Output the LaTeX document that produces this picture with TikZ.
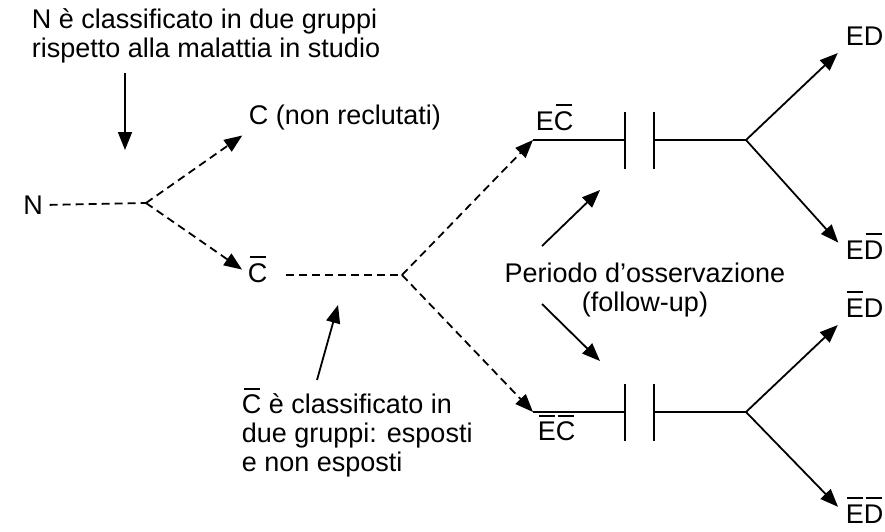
\documentclass[tikz,border=0pt]{standalone}
\usepackage{fontspec}
\setmainfont{Liberation Sans}
\usetikzlibrary{arrows.meta}
\newcommand{\nega}[1]{\ooalign{#1\cr\hidewidth\rule[24pt]{0.6em}{2pt}\hidewidth\cr}}

\begin{document}
\begin{tikzpicture}[x=1pt, y=-1pt, line width=1.8pt,
    >={Triangle[length=18pt,width=14pt]},
    lab/.style={inner sep=0pt, font=\fontsize{27}{29}\selectfont},
    dsh/.style={dash pattern=on 8pt off 5pt}]
  \useasboundingbox (0,0) rectangle (885,532);

  % notes
  \node[lab, anchor=north west, align=left] (noteN) at (31,8)
       {N è classificato in due gruppi\\rispetto alla malattia in studio};
  \node[lab, anchor=north west, align=left] (noteC) at (241,393)
       {\nega{C} è classificato in\\due gruppi: esposti\\e non esposti};
  \node[lab, align=center, anchor=north] (follow) at (645,262)
       {Periodo d’osservazione\\(follow-up)};

  % groups
  \node[lab] (N) at (33,205) {N};
  \node[lab, anchor=west] (C) at (248,118) {C (non reclutati)};
  \node[lab, anchor=west] (Cn) at (247,273) {\nega{C}};
  \node[lab, anchor=south west] (EC) at (535,131) {E\nega{C}};
  \node[lab, anchor=north west] (EnCn) at (537,421) {\nega{E}\nega{C}};
  \node[lab, anchor=west] (ED) at (845,36) {ED};
  \node[lab, anchor=west] (EDn) at (845,250) {E\nega{D}};
  \node[lab, anchor=west] (EnD) at (845,308) {\nega{E}D};
  \node[lab, anchor=west] (EnDn) at (845,514) {\nega{E}\nega{D}};

  \coordinate (b1) at (146,203);
  \coordinate (b2) at (402,275);
  \coordinate (u0) at (533,140);
  \coordinate (l0) at (533,412);

  % selection (dashed)
  \draw[dsh, shorten <=6pt] (N.east) -- (b1);
  \draw[dsh, ->, shorten >=7pt] (b1) -- (C.south west);
  \draw[dsh, ->, shorten >=6pt] (b1) -- (Cn.west);
  \draw[dsh, shorten <=18pt] (Cn.east |- b2) -- (b2);
  \draw[dsh, ->] (b2) -- (u0);
  \draw[dsh, ->] (b2) -- (l0);

  % follow-up
  \foreach \r/\y in {u/140, l/412} {
    \coordinate (\r1) at (625,\y);
    \coordinate (\r2) at (654,\y);
    \coordinate (\r3) at (746,\y);
    \draw (\r0) -- (\r1);
    \draw (\r1) ++(0,-28) -- ++(0,57);
    \draw (\r2) ++(0,-28) -- ++(0,57);
    \draw (\r2) -- (\r3);
  }
  \draw[->, shorten >=10pt] (u3) -- (ED.south west);
  \draw[->, shorten >=10pt] (u3) -- (EDn.west);
  \draw[->, shorten >=10pt] (l3) -- (EnD.south west);
  \draw[->, shorten >=10pt] (l3) -- (EnDn.west);

  % pointers
  \coordinate (pN) at (125,150);
  \coordinate (pC) at (338,305);
  \coordinate (pU) at (600,190);
  \coordinate (pL) at (600,361);
  \draw[->] (125,73) -- (pN);
  \draw[->] (317,380) -- (pC);
  \draw[->] (542,246) -- (pU);
  \draw[->] (542,304) -- (pL);
\end{tikzpicture}
\end{document}
